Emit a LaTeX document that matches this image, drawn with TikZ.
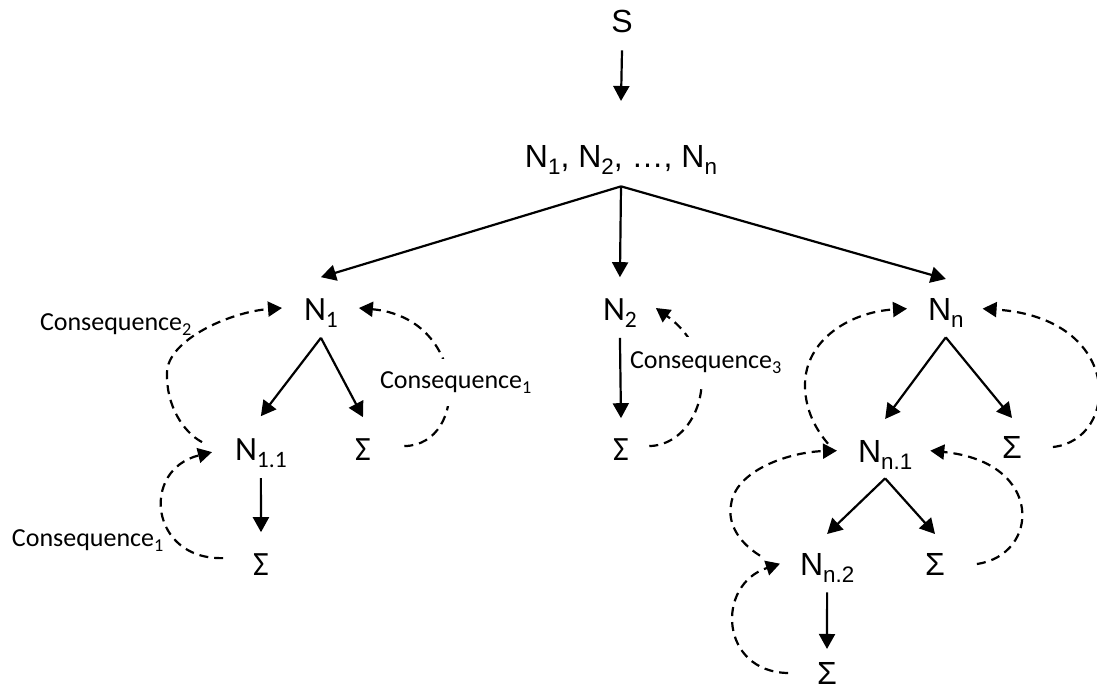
\documentclass[tikz,border=0pt]{standalone}
\usepackage{fontspec}
\setmainfont{Liberation Sans}
\newfontfamily\calfont{Carlito}
\usetikzlibrary{arrows.meta}
% lowered subscripts for the three text sizes in use
\newcommand\subA[1]{\raisebox{-0.23em}{\fontsize{22.4}{22.4}\selectfont #1}}
\newcommand\subC[1]{\raisebox{-0.23em}{\fontsize{23.5}{23.5}\selectfont #1}}
\newcommand\subL[1]{\raisebox{-0.23em}{\fontsize{18.2}{18.2}\selectfont #1}}

\begin{document}
\begin{tikzpicture}[x=1pt,y=-1pt,
  every node/.style={inner sep=0pt, outer sep=0pt},
  arial/.style={font=\fontsize{32}{38}\selectfont},
  calib/.style={font=\calfont\fontsize{34}{40}\selectfont},
  lbl/.style={font=\calfont\fontsize{26}{31}\selectfont, anchor=base west},
  link/.style={line width=2.2pt, -{Triangle[length=15pt,width=16pt]}},
  fb/.style={line width=2.2pt, dash pattern=on 9pt off 6pt, -{Triangle[length=14pt,width=15pt]}}
]
\useasboundingbox (0,0) rectangle (1097,690);

% nodes of the tree
\node[arial, anchor=base] (S) at (622,33) {S};
\node[arial, anchor=base] (top) at (621,167) {N\subA{1}, N\subA{2}, …, N\subA{n}};
\node[calib, anchor=base west] (n1) at (304,320) {N\subC{1}};
\node[calib, anchor=base west] (n2) at (603,320) {N\subC{2}};
\node[arial, anchor=base west] (nn) at (928,320) {N\subA{n}};
\node[calib, anchor=base west] (n11) at (235,460) {N\subC{1.1}};
\node[calib, anchor=base] (s1) at (363,460) {Σ};
\node[calib, anchor=base] (s11) at (261,575) {Σ};
\node[calib, anchor=base] (s2) at (621,460) {Σ};
\node[arial, anchor=base west] (nn1) at (858,462) {N\subA{n.1}};
\node[arial, anchor=base] (sn) at (1012,458) {Σ};
\node[arial, anchor=base west] (nn2) at (800,575) {N\subA{n.2}};
\node[arial, anchor=base] (sn1) at (935,575) {Σ};
\node[arial, anchor=base] (sn2) at (827,684) {Σ};

% solid tree arrows
\draw[link] ([yshift=-17pt]S.south) -- ([yshift=44pt]top.north);
\draw[link] ([yshift=-12pt]top.south) -- ([yshift=21pt]n1.north);
\draw[link] ([yshift=-12pt]top.south) -- ([yshift=21pt]n2.north);
\draw[link] ([yshift=-12pt]top.south) -- ([yshift=19pt]nn.north);
\draw[link] ([yshift=-10pt]n1.south) -- ([yshift=22pt]n11.north);
\draw[link] ([yshift=-10pt]n1.south) -- ([yshift=21pt]s1.north);
\draw[link] ([yshift=-10pt]n11.south) -- ([yshift=21pt]s11.north);
\draw[link] ([yshift=-10pt]n2.south) -- ([yshift=20pt]s2.north);
\draw[link] ([yshift=-10pt]nn.south) -- ([yshift=21pt]nn1.north);
\draw[link] ([yshift=-10pt]nn.south) -- ([yshift=18pt]sn.north);
\draw[link] ([yshift=-9pt]nn1.south) -- ([yshift=19pt]nn2.north);
\draw[link] ([yshift=-9pt]nn1.south) -- ([yshift=19pt]sn1.north);
\draw[link] ([yshift=-10pt]nn2.south) -- ([yshift=13pt]sn2.north);

% dashed feedback loops
\draw[fb] ([xshift=-33pt,yshift=11pt]n11.west) .. controls (183,432) and (166,405) .. (167,373)
  .. controls (167,340) and (230,312) .. ([xshift=-22pt,yshift=5pt]n1.west);
\draw[fb] ([xshift=-30pt,yshift=6pt]s11.west) .. controls (150,560) and (140,470) .. ([xshift=-23pt,yshift=1pt]n11.west);
\draw[fb] ([xshift=33.5pt,yshift=3pt]s1.east) .. controls (470,445) and (468,318) .. ([xshift=21pt,yshift=5pt]n1.east);
\draw[fb] ([xshift=20.5pt,yshift=3pt]s2.east) .. controls (700,445) and (728,360) .. ([xshift=19pt,yshift=5pt]n2.east);
\draw[fb] ([xshift=-30pt,yshift=11pt]nn1.west) .. controls (812,425) and (805,405) .. (805,385)
  .. controls (805,340) and (850,312) .. ([xshift=-21pt,yshift=4pt]nn.west);
\draw[fb] ([xshift=31pt]sn.east) .. controls (1120,440) and (1125,318) .. ([xshift=19pt,yshift=4pt]nn.east);
\draw[fb] ([xshift=-40pt,yshift=12pt]nn2.west) .. controls (735,540) and (728,520) .. (731,505)
  .. controls (735,470) and (790,452) .. ([xshift=-21pt,yshift=4pt]nn1.west);
\draw[fb] ([xshift=32pt]sn1.east) .. controls (1040,555) and (1045,462) .. ([xshift=18pt,yshift=4pt]nn1.east);
\draw[fb] ([xshift=-29pt]sn2.west) .. controls (720,672) and (715,585) .. ([xshift=-20pt,yshift=4pt]nn2.west);

% loop labels
\node[lbl] (c2) at (40,330) {Consequence\subL{2}};
\node[lbl, fill=white, inner ysep=12pt, inner xsep=2pt] (c1a) at (378,388) {Consequence\subL{1}};
\node[lbl, fill=white, inner ysep=14pt, inner xsep=2pt] (c3) at (628,368) {Consequence\subL{3}};
\node[lbl] (c1b) at (12,546) {Consequence\subL{1}};
\end{tikzpicture}
\end{document}
